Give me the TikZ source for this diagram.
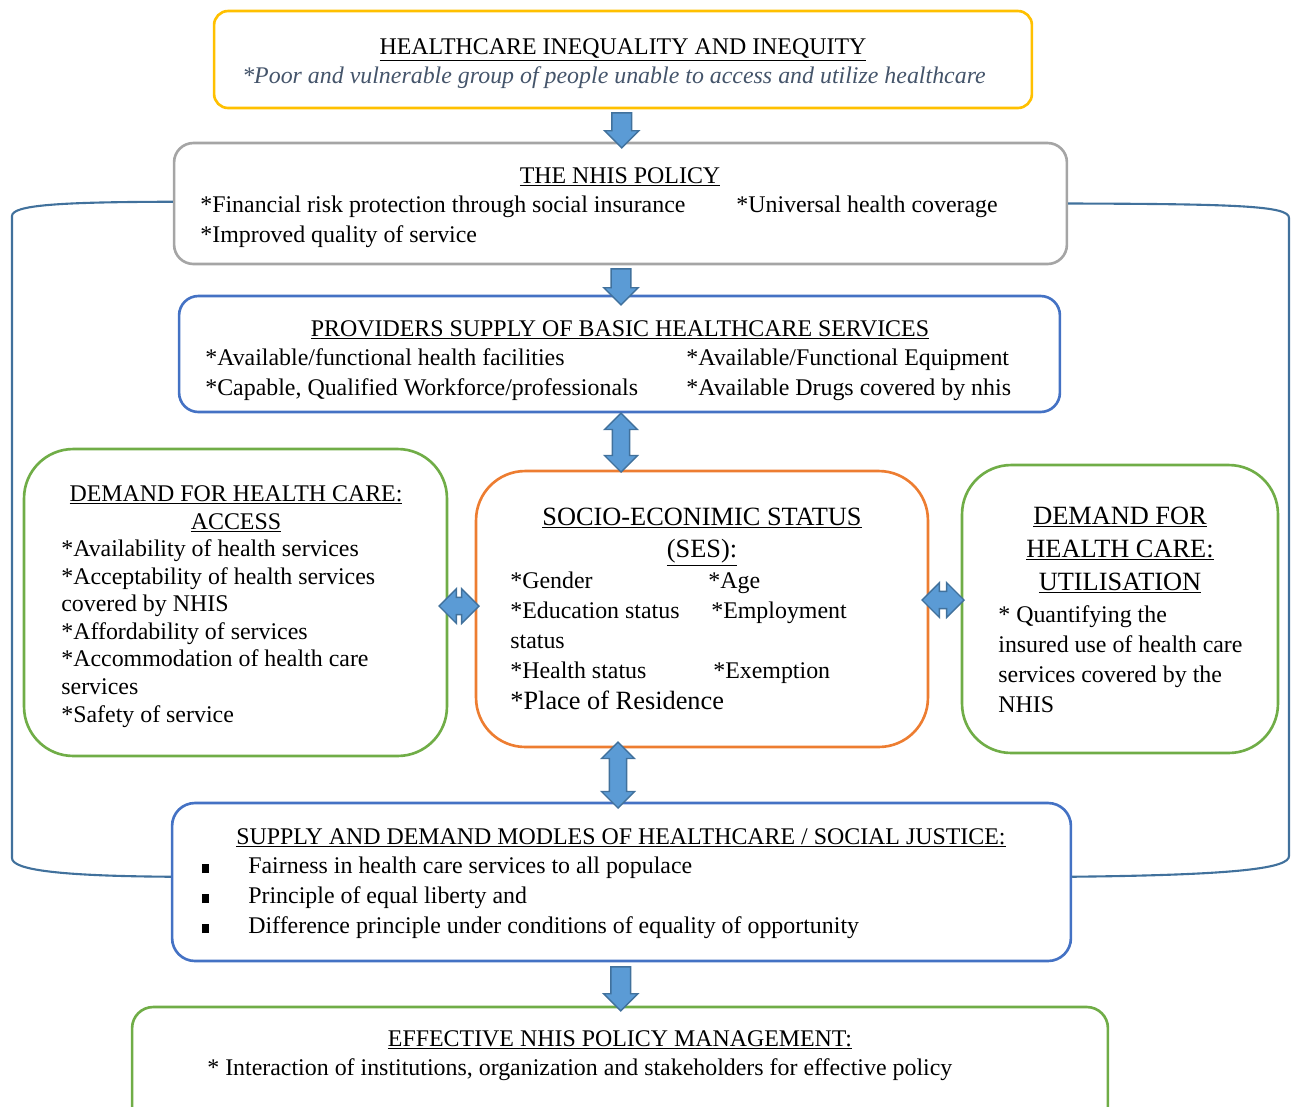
\documentclass[tikz,border=0pt]{standalone}
\usepackage{fontspec}
\setmainfont{Liberation Serif}
\usetikzlibrary{shapes.arrows,calc}

\definecolor{boxyellow}{HTML}{FFC000}
\definecolor{boxgrey}{HTML}{A5A5A5}
\definecolor{boxblue}{HTML}{4472C4}
\definecolor{boxgreen}{HTML}{70AD47}
\definecolor{boxorange}{HTML}{ED7D31}
\definecolor{arrowfill}{HTML}{5B9BD5}
\definecolor{arrowline}{HTML}{41719C}
\definecolor{slate}{HTML}{44546A}

\tikzset{
  box/.style={rectangle,rounded corners=#1,draw,line width=1.5pt,inner sep=0pt},
  box/.default=8pt,
  txt/.style={inner sep=0pt,anchor=base west,font=\fontsize{13.6}{17}\selectfont},
  ttl/.style={inner sep=0pt,anchor=base,font=\fontsize{13.6}{17}\selectfont},
  bigttl/.style={inner sep=0pt,anchor=base,font=\fontsize{15}{18}\selectfont},
  downarrow/.style={single arrow,draw=arrowline,fill=arrowfill,line width=0.8pt,
    shape border rotate=270,inner sep=5.2pt,single arrow head extend=4.2pt,minimum width=0pt},
  vdouble/.style={double arrow,draw=arrowline,fill=arrowfill,line width=0.8pt,
    shape border rotate=90,inner sep=4.5pt,double arrow head extend=4.5pt,minimum width=0pt},
  hdouble/.style={double arrow,draw=arrowline,fill=arrowfill,line width=0.8pt,
    inner sep=4.5pt,double arrow head extend=5pt,minimum width=0pt},
  loopline/.style={draw=arrowline,line width=1.2pt}
}

\begin{document}
\begin{tikzpicture}[x=0.02cm,y=-0.02cm]
\clip (0,0) rectangle (1295,1106);

% boxes
\node[box=8pt,draw=boxyellow,minimum width=16.36cm,minimum height=1.94cm] (ineq) at (623,59.5) {};
\node[box=11pt,draw=boxgrey,minimum width=17.86cm,minimum height=2.42cm] (nhis) at (620.5,203.5) {};
\node[box=11pt,draw=boxblue,minimum width=17.62cm,minimum height=2.32cm] (prov) at (619.5,354) {};
\node[box=28pt,draw=boxgreen,minimum width=8.46cm,minimum height=6.14cm] (access) at (235.5,602.5) {};
\node[box=28pt,draw=boxorange,minimum width=9.04cm,minimum height=5.52cm] (ses) at (702,609) {};
\node[box=28pt,draw=boxgreen,minimum width=6.32cm,minimum height=5.76cm] (util) at (1120,609) {};
\node[box=13pt,draw=boxblue,minimum width=17.98cm,minimum height=3.16cm] (supply) at (621.5,882) {};
\node[box=12pt,draw=boxgreen,minimum width=19.52cm,minimum height=3.2cm] (mgmt) at (620,1087) {};

% texts
\node[ttl] (ineqt) at (623,54) {\underline{HEALTHCARE INEQUALITY AND INEQUITY}};
\node[ttl,text=slate] (ineqa) at (614,83) {\itshape *Poor and vulnerable group of people unable to access and utilize healthcare};

\node[ttl] (nhist) at (620,183) {\underline{THE NHIS POLICY}};
\node[txt] (nhisa) at (200,212) {*Financial risk protection through social insurance};
\node[txt] (nhisb) at (736,212) {*Universal health coverage};
\node[txt] (nhisc) at (200,242) {*Improved quality of service};

\node[ttl] (provt) at (620,336) {\underline{PROVIDERS SUPPLY OF BASIC HEALTHCARE SERVICES}};
\node[txt] (prova) at (205,365) {*Available/functional health facilities};
\node[txt] (provb) at (686,365) {*Available/Functional Equipment};
\node[txt] (provc) at (205,395) {*Capable, Qualified Workforce/professionals};
\node[txt] (provd) at (686,395) {*Available Drugs covered by nhis};

\node[ttl] (accesst) at (236,501) {\underline{DEMAND FOR HEALTH CARE:}};
\node[ttl] (accessu) at (236,529) {\underline{ACCESS}};
\node[txt,align=left,font=\fontsize{13.6}{15.7}\selectfont] (accessa) at (61,722) {*Availability of health services\\
*Acceptability of health services\\ covered by NHIS\\ *Affordability of services\\
*Accommodation of health care\\ services\\ *Safety of service};

\node[bigttl] (sest) at (702,525) {\underline{SOCIO-ECONIMIC STATUS}};
\node[bigttl] (sesu) at (702,557) {\underline{(SES):}};
\node[txt] (sesa) at (510,588) {*Gender};
\node[txt] (sesb) at (708,588) {*Age};
\node[txt] (sesc) at (510,618) {*Education status};
\node[txt] (sesd) at (711,618) {*Employment};
\node[txt] (sese) at (510,648) {status};
\node[txt] (sesf) at (510,678) {*Health status};
\node[txt] (sesg) at (713,678) {*Exemption};
\node[txt,font=\fontsize{15}{18}\selectfont] (sesh) at (510,709) {*Place of Residence};

\node[bigttl] (utilt) at (1120,524) {\underline{DEMAND FOR}};
\node[bigttl] (utilu) at (1120,557) {\underline{HEALTH CARE:}};
\node[bigttl] (utilv) at (1120,590) {\underline{UTILISATION}};
\node[txt,align=left] (utila) at (998,712) {* Quantifying the\\ insured use of health care\\
services covered by the\\ NHIS};

\node[ttl] (supplyt) at (621,844) {\underline{SUPPLY AND DEMAND MODLES OF HEALTHCARE / SOCIAL JUSTICE:}};
\node[txt] (bull1) at (202,873) {\rule{3.5pt}{5pt}};
\node[txt] (bull2) at (202,903) {\rule{3.5pt}{5pt}};
\node[txt] (bull3) at (202,933) {\rule{3.5pt}{5pt}};
\node[txt] (supplya) at (248,873) {Fairness in health care services to all populace};
\node[txt] (supplyb) at (248,903) {Principle of equal liberty and};
\node[txt] (supplyc) at (248,933) {Difference principle under conditions of equality of opportunity};

\node[ttl] (mgmtt) at (620,1046) {\underline{EFFECTIVE NHIS POLICY MANAGEMENT:}};
\node[txt] (mgmta) at (207,1075) {* Interaction of institutions, organization and stakeholders for effective policy};

% block arrows
\node[downarrow,minimum height=0.7cm] (a1) at ($(ineq.south)!0.5!(nhis.north)$) {};
\node[downarrow,minimum height=0.72cm] (a2) at (621,282) {};
\node[vdouble,minimum height=1.18cm] (a3) at (621,442.5) {};
\node[hdouble,minimum height=0.8cm] (a4) at (459,606) {};
\node[hdouble,minimum height=0.84cm] (a5) at (943,600) {};
\node[vdouble,minimum height=1.32cm] (a6) at (618,775) {};
\node[downarrow,minimum height=0.88cm] (a7) at ($(supply.south)!0.5!(mgmt.north)$) {};

% feedback lines
\draw[loopline] ([yshift=1pt]nhis.west) .. controls (60,202) and (12,205) .. (12,216)
  -- (12,858) .. controls (12,870) and (60,876) .. ([yshift=3pt]supply.west);
\draw[loopline] (nhis.east) .. controls (1240,204) and (1289,206) .. (1289,218)
  -- (1289,856) .. controls (1289,868) and (1240,875) .. ([yshift=3pt]supply.east);
\end{tikzpicture}
\end{document}
